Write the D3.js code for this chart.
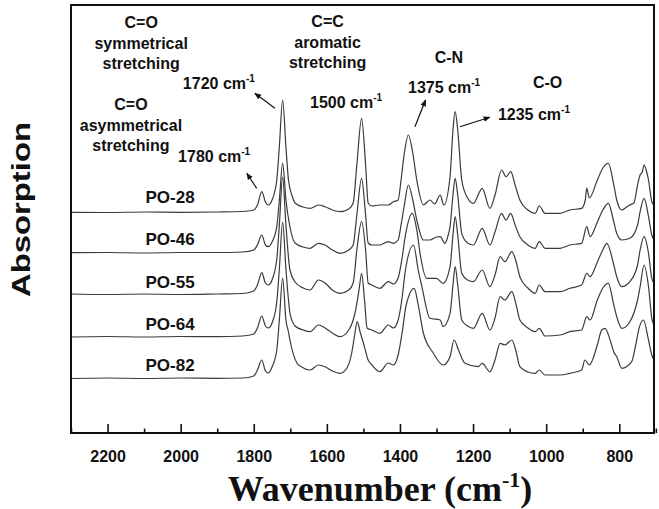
<!DOCTYPE html>
<html><head><meta charset="utf-8">
<script src="https://cdn.jsdelivr.net/npm/d3@7"></script>
<style>body{margin:0;background:#fff}svg{display:block}text{font-family:"Liberation Sans",Arial,sans-serif}</style>
</head><body><svg id="c" width="659" height="509"></svg>
<script>
// ---- data: [wavenumber (cm-1), absorption (a.u., stacked as plotted)] ----
const seriesNames = ["PO-28","PO-46","PO-55","PO-64","PO-82"];
const po28 = [[2300,2.207],[2200,2.205],[2100,2.21],[2000,2.207],[1900,2.21],[1830,2.215],[1800,2.23],[1790,2.28],[1778,2.413],[1768,2.31],[1760,2.28],[1750,2.33],[1737,2.53],[1730,2.863],[1721,3.33],[1712,2.863],[1705,2.53],[1695,2.37],[1687,2.30],[1665,2.26],[1646,2.247],[1623,2.28],[1605,2.263],[1585,2.23],[1564,2.213],[1540,2.24],[1528,2.30],[1518,2.68],[1505,3.147],[1494,2.68],[1487,2.30],[1477,2.27],[1455,2.28],[1432,2.28],[1418,2.313],[1405,2.33],[1397,2.53],[1388,2.80],[1377,2.98],[1365,2.80],[1354,2.53],[1336,2.28],[1318,2.33],[1305,2.29],[1290,2.38],[1280,2.28],[1263,2.563],[1255,3.03],[1249,3.213],[1242,3.03],[1231,2.53],[1215,2.35],[1199,2.297],[1175,2.447],[1154,2.247],[1140,2.38],[1122,2.63],[1110,2.563],[1097,2.613],[1085,2.48],[1072,2.33],[1050,2.23],[1030,2.197],[1019,2.27],[1003,2.197],[962,2.197],[935,2.23],[903,2.247],[893,2.33],[889,2.45],[882,2.35],[860,2.53],[845,2.65],[830,2.697],[815,2.48],[807,2.33],[793,2.23],[780,2.26],[771,2.28],[760,2.30],[750,2.48],[743,2.58],[737,2.61],[732,2.68],[725,2.61],[720,2.53],[711,2.313],[705,2.28]];
const po46 = [[2300,1.803],[2200,1.805],[2100,1.80],[2000,1.805],[1900,1.805],[1830,1.81],[1800,1.83],[1790,1.88],[1778,1.98],[1768,1.88],[1760,1.863],[1750,1.91],[1737,2.063],[1730,2.326],[1721,2.697],[1712,2.33],[1701,2.06],[1687,1.90],[1665,1.86],[1646,1.847],[1623,1.897],[1605,1.88],[1585,1.83],[1564,1.797],[1540,1.83],[1528,1.88],[1518,2.18],[1505,2.547],[1494,2.18],[1487,1.90],[1477,1.88],[1455,1.88],[1432,1.913],[1418,1.897],[1405,1.93],[1397,2.08],[1388,2.28],[1377,2.48],[1365,2.33],[1354,2.13],[1336,1.93],[1318,1.93],[1300,1.96],[1290,1.963],[1277,1.897],[1268,1.98],[1263,2.063],[1255,2.38],[1249,2.547],[1242,2.38],[1231,1.997],[1215,1.90],[1199,1.88],[1175,2.047],[1154,1.88],[1140,2.01],[1122,2.197],[1110,2.13],[1097,2.197],[1085,2.08],[1072,1.963],[1050,1.88],[1030,1.847],[1019,1.913],[1003,1.847],[962,1.847],[935,1.88],[903,1.897],[889,2.063],[880,1.963],[860,2.11],[845,2.23],[830,2.297],[815,2.11],[807,1.997],[793,1.93],[771,1.947],[750,2.08],[743,2.213],[732,2.347],[720,2.163],[711,1.98],[705,1.93]];
const po55 = [[2300,1.39],[2200,1.385],[2100,1.39],[2000,1.385],[1900,1.39],[1830,1.395],[1800,1.42],[1790,1.48],[1778,1.603],[1768,1.50],[1760,1.48],[1750,1.53],[1737,1.74],[1730,2.08],[1721,2.56],[1712,2.08],[1701,1.63],[1687,1.51],[1665,1.45],[1646,1.43],[1623,1.53],[1605,1.50],[1585,1.43],[1564,1.397],[1540,1.43],[1528,1.50],[1518,1.83],[1505,2.113],[1494,1.83],[1487,1.50],[1477,1.48],[1455,1.447],[1432,1.513],[1418,1.49],[1405,1.55],[1395,1.73],[1385,1.98],[1366,2.197],[1354,2.03],[1345,1.797],[1327,1.547],[1300,1.547],[1282,1.497],[1263,1.663],[1255,1.98],[1249,2.163],[1242,1.98],[1231,1.597],[1215,1.53],[1199,1.513],[1175,1.63],[1154,1.463],[1140,1.58],[1126,1.763],[1113,1.713],[1094,1.813],[1082,1.71],[1072,1.563],[1050,1.45],[1030,1.397],[1019,1.48],[1003,1.413],[962,1.413],[935,1.447],[903,1.48],[889,1.597],[880,1.563],[860,1.71],[845,1.83],[834,1.897],[815,1.68],[807,1.563],[793,1.463],[771,1.513],[750,1.68],[743,1.83],[732,1.963],[720,1.797],[711,1.547],[705,1.50]];
const po64 = [[2300,0.96],[2200,0.965],[2100,0.96],[2000,0.965],[1900,0.963],[1830,0.97],[1800,0.99],[1790,1.05],[1778,1.17],[1768,1.07],[1760,1.05],[1750,1.10],[1737,1.31],[1730,1.64],[1721,2.11],[1712,1.64],[1705,1.33],[1701,1.20],[1687,1.07],[1665,1.03],[1646,1.013],[1623,1.08],[1605,1.05],[1585,1.00],[1564,0.963],[1540,1.03],[1523,1.20],[1512,1.43],[1505,1.597],[1497,1.33],[1490,1.05],[1477,1.03],[1455,0.997],[1432,1.08],[1418,1.05],[1405,1.13],[1395,1.33],[1385,1.63],[1363,1.88],[1350,1.63],[1340,1.463],[1318,1.147],[1290,1.13],[1282,1.063],[1263,1.197],[1255,1.48],[1249,1.663],[1242,1.48],[1231,1.13],[1215,1.07],[1199,1.047],[1175,1.197],[1154,1.03],[1140,1.15],[1126,1.363],[1113,1.33],[1094,1.413],[1082,1.28],[1072,1.13],[1050,1.05],[1030,1.013],[1019,1.047],[1003,0.97],[962,0.98],[935,1.013],[903,1.03],[889,1.163],[880,1.13],[860,1.33],[845,1.45],[830,1.497],[815,1.28],[807,1.163],[793,1.047],[771,1.113],[750,1.33],[743,1.463],[732,1.68],[720,1.463],[711,1.147],[705,1.08]];
const po82 = [[2300,0.545],[2200,0.55],[2100,0.545],[2000,0.55],[1900,0.547],[1830,0.55],[1800,0.57],[1790,0.63],[1778,0.73],[1768,0.62],[1760,0.60],[1750,0.66],[1737,0.83],[1730,1.13],[1721,1.55],[1712,1.13],[1705,1.01],[1701,0.93],[1682,0.70],[1669,0.66],[1646,0.63],[1623,0.68],[1605,0.663],[1585,0.62],[1564,0.597],[1545,0.65],[1532,0.80],[1524,0.98],[1517,1.113],[1509,1.01],[1500,0.90],[1487,0.73],[1477,0.68],[1455,0.613],[1432,0.70],[1418,0.68],[1405,0.78],[1395,0.98],[1383,1.28],[1361,1.447],[1350,1.28],[1336,1.00],[1309,0.80],[1282,0.68],[1263,0.763],[1252,0.93],[1240,0.83],[1222,0.697],[1186,0.663],[1175,0.697],[1154,0.613],[1140,0.73],[1126,0.897],[1113,0.88],[1094,0.93],[1082,0.81],[1072,0.663],[1050,0.61],[1030,0.597],[1019,0.63],[1003,0.58],[962,0.58],[935,0.597],[903,0.63],[894,0.73],[882,0.68],[860,0.88],[848,1.03],[839,1.047],[825,0.93],[815,0.81],[807,0.763],[793,0.647],[766,0.713],[755,0.88],[746,1.047],[734,1.13],[720,0.93],[711,0.78],[705,0.73]];
const seriesData = [po28, po46, po55, po64, po82];
const labelPos = [[2029,2.297],[2029,1.88],[2029,1.453],[2029,1.03],[2029,0.623]]; // label anchor (wavenumber, absorption)
const majorTicks = [2200,2000,1800,1600,1400,1200,1000,800];
const minorTicks = [2300,2100,1900,1700,1500,1300,1100,900,700];
// annotations: text lines and anchor (wavenumber, absorption)
const bandNames = [
  {lines:["C=O","symmetrical","stretching"], at:[2108,4.05]},
  {lines:["C=O","asymmetrical","stretching"], at:[2136,3.23]},
  {lines:["C=C","aromatic","stretching"], at:[1598,4.06]},
  {lines:["C-N"], at:[1266,3.70]},
  {lines:["C-O"], at:[996,3.45]}
];
const bandPos = [
  {label:"1720", at:[1994,3.44], from:[1742,3.247], to:[1797,3.397]},
  {label:"1780", at:[2007,2.71], from:[1792,2.447], to:[1819,2.597]},
  {label:"1500", at:[1646,3.25], from:null, to:null},
  {label:"1375", at:[1378,3.40], from:[1359,3.063], to:[1330,3.33]},
  {label:"1235", at:[1132,3.13], from:[1236,3.063], to:[1154,3.157]}
];

// ---- layout ----
const svg = d3.select("#c");
const X0 = 71, X1 = 654, Y0 = 5, Y1 = 433;
const x = d3.scaleLinear().domain([2300, 705]).range([X0, X1]);
const y = d3.scaleLinear().domain([0, 4.28]).range([Y1, Y0]);

// curves
const line = d3.line().x(d => x(d[0])).y(d => y(d[1])).curve(d3.curveMonotoneX);
svg.append("g").selectAll("path").data(seriesData).join("path")
  .attr("d", line).attr("fill", "none").attr("stroke", "#3a3a3a").attr("stroke-width", 1.2);

// frame
svg.append("rect").attr("x", X0).attr("y", Y0).attr("width", X1 - X0).attr("height", Y1 - Y0)
  .attr("fill", "none").attr("stroke", "#111").attr("stroke-width", 2);

// axis
const ax = svg.append("g").attr("transform", `translate(0,${Y1})`)
  .call(d3.axisBottom(x).tickValues(majorTicks).tickSize(-9).tickPadding(0).tickFormat(d3.format("d")));
ax.select(".domain").remove();
ax.selectAll(".tick line").attr("stroke", "#111").attr("stroke-width", 1.6);
ax.selectAll(".tick text").attr("y", 0).attr("dy", 29).attr("font-size", 16).attr("font-weight", "bold")
  .attr("fill", "#111").style("font-family", "'Liberation Sans', Arial, sans-serif");
const axm = svg.append("g").attr("transform", `translate(0,${Y1})`)
  .call(d3.axisBottom(x).tickValues(minorTicks).tickSize(-4.5).tickFormat(""));
axm.select(".domain").remove();
axm.selectAll(".tick line").attr("stroke", "#111").attr("stroke-width", 1.6);

// series labels
svg.append("g").selectAll("text").data(seriesNames).join("text")
  .attr("x", (d, i) => x(labelPos[i][0])).attr("y", (d, i) => y(labelPos[i][1]))
  .attr("text-anchor", "middle").attr("font-size", 17).attr("font-weight", "bold").attr("fill", "#111")
  .text(d => d);

// band names
bandNames.forEach(b => {
  const t = svg.append("text").attr("x", x(b.at[0])).attr("y", y(b.at[1]))
    .attr("text-anchor", "middle").attr("font-size", 16).attr("font-weight", "bold").attr("fill", "#111");
  b.lines.forEach((l, i) => t.append("tspan").attr("x", x(b.at[0])).attr("dy", i ? 20.5 : 0).text(l));
});

// arrow marker
svg.append("defs").append("marker").attr("id", "ah").attr("viewBox", "0 0 10 10")
  .attr("refX", 9).attr("refY", 5).attr("markerWidth", 7).attr("markerHeight", 7)
  .attr("orient", "auto-start-reverse").attr("markerUnits", "userSpaceOnUse")
  .append("path").attr("d", "M0,1 L10,5 L0,9 Z").attr("fill", "#111");

bandPos.forEach(b => {
  const t = svg.append("text").attr("x", x(b.at[0])).attr("y", y(b.at[1]))
    .attr("font-size", 16).attr("font-weight", "bold").attr("fill", "#111");
  t.append("tspan").text(b.label + " cm");
  t.append("tspan").attr("font-size", 10).attr("dy", -7).text("-1");
  if (b.from) {
    svg.append("line").attr("x1", x(b.from[0])).attr("y1", y(b.from[1]))
      .attr("x2", x(b.to[0])).attr("y2", y(b.to[1]))
      .attr("stroke", "#111").attr("stroke-width", 1.2).attr("marker-end", "url(#ah)");
  }
});

// axis titles
const xt = svg.append("text").attr("x", 380).attr("y", 501).attr("text-anchor", "middle")
  .attr("font-size", 36).attr("font-weight", "bold").attr("fill", "#111")
  .style("font-family", "'Liberation Serif','Times New Roman',serif");
xt.append("tspan").text("Wavenumber (cm");
xt.append("tspan").attr("font-size", 22).attr("dy", -14).text("-1");
xt.append("tspan").attr("dy", 14).text(")");

svg.append("text").attr("transform", "translate(30,209.5) rotate(-90)").attr("text-anchor", "middle")
  .attr("font-size", 25).attr("font-weight", "bold").attr("fill", "#111")
  .attr("textLength", 175).attr("lengthAdjust", "spacingAndGlyphs").text("Absorption");
</script></body></html>
